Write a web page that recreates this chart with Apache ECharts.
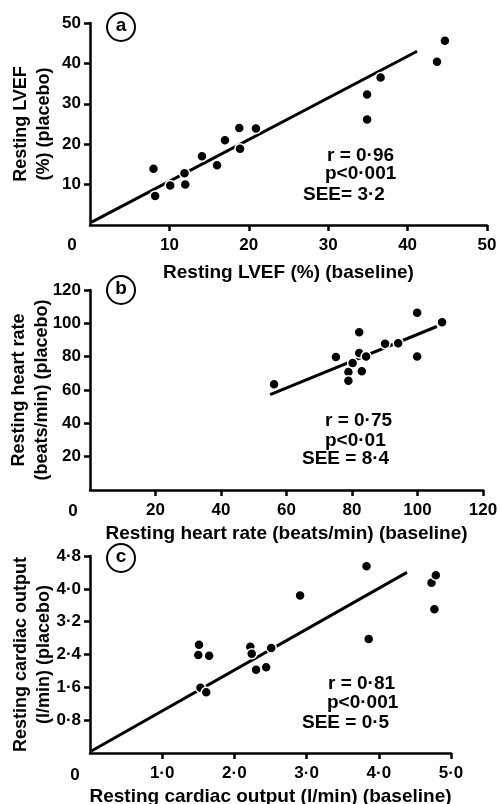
<!DOCTYPE html>
<html><head><meta charset="utf-8">
<script src="https://cdn.jsdelivr.net/npm/echarts@6/dist/echarts.min.js"></script>
<style>html,body{margin:0;padding:0;background:#fff}#c{width:501px;height:804px}</style>
</head><body><div id="c"></div>
<script>
// Panel a: resting LVEF (%)
const lvefBaseline = [8.0, 8.2, 10.1, 11.9, 12.0, 14.1, 16.0, 17.0, 18.8, 18.9, 20.9, 34.9, 34.9, 36.6, 43.7, 44.7];
const lvefPlacebo  = [13.9, 7.2, 9.8, 12.8, 10.0, 17.0, 14.8, 21.0, 24.0, 18.9, 23.9, 32.3, 26.1, 36.5, 40.4, 45.6];
const lvefFitX = [0.2, 41.2];
const lvefFitY = [0.7, 43.0];
const lvefStats = ['r = 0·96', 'p<0·001', 'SEE= 3·2'];

// Panel b: resting heart rate (beats/min)
const hrBaseline = [56.2, 75.1, 78.9, 78.9, 80.2, 82.2, 82.2, 83.0, 84.3, 90.1, 94.1, 99.9, 99.9, 107.5];
const hrPlacebo  = [63.5, 79.8, 70.8, 65.6, 76.2, 94.6, 82.2, 71.2, 80.1, 87.7, 88.1, 106.4, 80.1, 100.6];
const hrFitX = [55.0, 105.9];
const hrFitY = [57.2, 98.1];
const hrStats = ['r = 0·75', 'p<0·01', 'SEE = 8·4'];

// Panel c: resting cardiac output (l/min)
const coBaseline = [1.51, 1.50, 1.65, 1.53, 1.61, 2.22, 2.24, 2.30, 2.44, 2.51, 2.91, 3.83, 3.86, 4.73, 4.79, 4.77];
const coPlacebo  = [2.64, 2.39, 2.37, 1.59, 1.48, 2.59, 2.42, 2.03, 2.09, 2.56, 3.84, 4.55, 2.78, 4.15, 4.33, 3.50];
const coFitX = [0.02, 4.39];
const coFitY = [0.05, 4.40];
const coStats = ['r = 0·81', 'p<0·001', 'SEE = 0·5'];

const panelLetters = ['a', 'b', 'c'];
const xNames = ['Resting LVEF (%) (baseline)', 'Resting heart rate (beats/min) (baseline)', 'Resting cardiac output (l/min) (baseline)'];
const yNames = ['Resting LVEF\n(%) (placebo)', 'Resting heart rate\n(beats/min) (placebo)', 'Resting cardiac output\n(l/min) (placebo)'];

const FONT = '"Liberation Sans", Arial, sans-serif';
const chart = echarts.init(document.getElementById('c'), null, {renderer: 'canvas'});

const dec = v => (Math.round(v * 10) / 10).toFixed(1).replace('.', '·');
const int = v => String(Math.round(v));

function axis(dir, gi, max, interval, name, fmt, gap) {
  const a = {
    type: 'value', gridIndex: gi, min: 0, max: max, interval: interval, zlevel: 1, z: 4,
    name: name, nameLocation: 'middle', nameGap: gap, nameMoveOverlap: false,
    nameTextStyle: {fontFamily: FONT, fontWeight: 'bold', fontSize: dir === 'x' ? 19 : 18, color: '#000', lineHeight: 23},
    axisLine: {show: true, lineStyle: {color: '#000', width: 2.5}},
    axisTick: {show: true, length: 6, lineStyle: {color: '#000', width: 2.5}},
    axisLabel: {show: true, showMinLabel: false, margin: dir === 'x' ? 12 : 9, fontFamily: FONT, fontWeight: 'bold', fontSize: 17, color: '#000', formatter: fmt},
    splitLine: {show: false}
  };
  if (dir === 'y') a.nameRotate = 90;
  return a;
}

const grids = [
  {left: 90, top: 23, width: 397, height: 202, outerBoundsMode: 'none', containLabel: false},
  {left: 90, top: 290, width: 393, height: 200, outerBoundsMode: 'none', containLabel: false},
  {left: 90, top: 556, width: 361, height: 197, outerBoundsMode: 'none', containLabel: false}
];

function pts(xs, ys) { return xs.map((x, i) => [x, ys[i]]); }

function scatter(i, xs, ys) {
  return {type: 'scatter', xAxisIndex: i, yAxisIndex: i, data: pts(xs, ys), symbol: 'circle', symbolSize: 10,
    itemStyle: {color: '#000', opacity: 1, borderColor: '#fff', borderWidth: 1.5}, z: 6, silent: true};
}
function fit(i, xs, ys) {
  return {type: 'line', xAxisIndex: i, yAxisIndex: i, data: pts(xs, ys), symbol: 'none',
    lineStyle: {color: '#000', width: 3}, z: 5, silent: true, animation: false};
}

const graphics = [];
const circles = [[121, 27], [121, 290], [121, 558]];
circles.forEach((c, i) => {
  graphics.push({type: 'circle', z: 10, shape: {cx: c[0], cy: c[1], r: 14}, style: {fill: '#fff', stroke: '#000', lineWidth: 2}});
  graphics.push({type: 'text', z: 11, x: c[0], y: c[1] - 1, style: {text: panelLetters[i], font: 'bold 19px ' + FONT, fill: '#000', align: 'center', verticalAlign: 'middle'}});
});
const zeros = [[72, 245], [73, 511], [75, 775]];
zeros.forEach(z => graphics.push({type: 'text', z: 10, x: z[0], y: z[1], style: {text: '0', font: 'bold 17px ' + FONT, fill: '#000', align: 'center', verticalAlign: 'middle'}}));

const statPos = [
  [[327, 156], [325, 174], [303, 195]],
  [[325, 421], [325, 441], [302, 459]],
  [[328, 684], [327, 703], [302, 723]]
];
[lvefStats, hrStats, coStats].forEach((s, i) => {
  s.forEach((t, j) => graphics.push({type: 'text', z: 10, x: statPos[i][j][0], y: statPos[i][j][1],
    style: {text: t, font: 'bold 19px ' + FONT, fill: '#000', align: 'left', verticalAlign: 'middle'}}));
});

chart.setOption({
  animation: false,
  grid: grids,
  xAxis: [
    axis('x', 0, 50, 10, xNames[0], int, 36),
    axis('x', 1, 120, 20, xNames[1], int, 32),
    axis('x', 2, 5, 1, xNames[2], dec, 32)
  ],
  yAxis: [
    axis('y', 0, 50, 10, yNames[0], int, 34),
    axis('y', 1, 120, 20, yNames[1], int, 36),
    axis('y', 2, 4.8, 0.8, yNames[2], dec, 34)
  ],
  series: [
    fit(0, lvefFitX, lvefFitY), scatter(0, lvefBaseline, lvefPlacebo),
    fit(1, hrFitX, hrFitY), scatter(1, hrBaseline, hrPlacebo),
    fit(2, coFitX, coFitY), scatter(2, coBaseline, coPlacebo)
  ],
  graphic: graphics
});
</script></body></html>
